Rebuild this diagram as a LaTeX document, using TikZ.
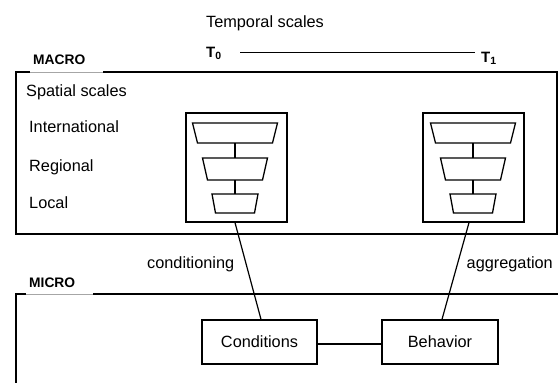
\documentclass[tikz,border=0pt]{standalone}
\usepackage{fontspec}
\setmainfont{Liberation Sans}
\begin{document}
\begin{tikzpicture}[x=1pt,y=-1pt,
  txt/.style={font=\fontsize{16.3}{19}\selectfont, inner sep=0pt},
  lbl/.style={font=\bfseries\fontsize{13.8}{16}\selectfont, inner sep=0pt},
  tlbl/.style={font=\bfseries\fontsize{15}{17}\selectfont, inner sep=0pt},
  frame/.style={draw, line width=1.3pt},
  trap/.style={draw, line width=1.3pt, line join=miter},
  conn/.style={line width=1.2pt},
  gap/.style={draw=gray!70, line width=0.8pt},
  box/.style={draw, line width=1.3pt, minimum width=115pt, minimum height=44pt, inner sep=0pt,
    font=\fontsize{16.3}{19}\selectfont}]
\useasboundingbox (0,0) rectangle (558,383);

% temporal scale
\node[txt, anchor=base] (temporal) at (265,27) {Temporal scales};
\node[tlbl, anchor=base west] (T0) at (206,57) {T\textsubscript{0}};
\node[tlbl, anchor=base west] (T1) at (481,62) {T\textsubscript{1}};
\coordinate (ta) at (240,52);
\coordinate (tb) at (475,52);
\draw[line width=1pt] (ta) -- (tb);

% MACRO box
\node[lbl, anchor=base west] (macro) at (33,64) {MACRO};
\draw[frame] (30,72) -- (16,72) -- (16,234) -- (557,234) -- (557,72) -- (103,72);
\draw[gap] (30,72) -- (103,72);

\node[txt, anchor=base west] (spatial) at (26,96) {Spatial scales};
\node[txt, anchor=base west] (intl) at (29,132) {International};
\node[txt, anchor=base west] (reg) at (29,171) {Regional};
\node[txt, anchor=base west] (loc) at (29,208) {Local};

% pyramid frames
\node[frame, minimum width=101pt, minimum height=109pt, inner sep=0pt] (lf) at (236.5,167.5) {};
\node[frame, minimum width=101pt, minimum height=109pt, inner sep=0pt] (rf) at (473.5,167.5) {};

\foreach \cx in {235,473} {
  \draw[trap] ({\cx-42.5},123) -- ({\cx+42.5},123) -- ({\cx+37.5},143) -- ({\cx-37.5},143) -- cycle;
  \draw[trap] ({\cx-32.5},158) -- ({\cx+32.5},158) -- ({\cx+27.5},180) -- ({\cx-27.5},180) -- cycle;
  \draw[trap] ({\cx-23},194) -- ({\cx+23},194) -- ({\cx+19.5},213) -- ({\cx-19.5},213) -- cycle;
  \draw[conn] (\cx,143) -- (\cx,158);
  \draw[conn] (\cx,180) -- (\cx,194);
}

% MICRO box
\node[lbl, anchor=base west] (micro) at (29,287) {MICRO};
\draw[frame] (26,294) -- (16,294) -- (16,390);
\draw[frame] (93,294) -- (565,294);
\draw[gap] (26,294) -- (93,294);

\node[box] (cond) at (259.5,342) {Conditions};
\node[box, minimum width=116pt] (beh) at (440,342) {Behavior};
\draw[conn] ([yshift=-2pt]cond.east) -- ([yshift=-2pt]beh.west);

\draw[conn] ([xshift=-1.5pt]lf.south) -- ([xshift=1.5pt]cond.north);
\draw[conn] ([xshift=-4.5pt]rf.south) -- ([xshift=2pt]beh.north);

\node[txt, anchor=base west] (condlbl) at (147,268) {conditioning};
\node[txt, anchor=base east] (agglbl) at (553,268) {aggregation};
\end{tikzpicture}
\end{document}
